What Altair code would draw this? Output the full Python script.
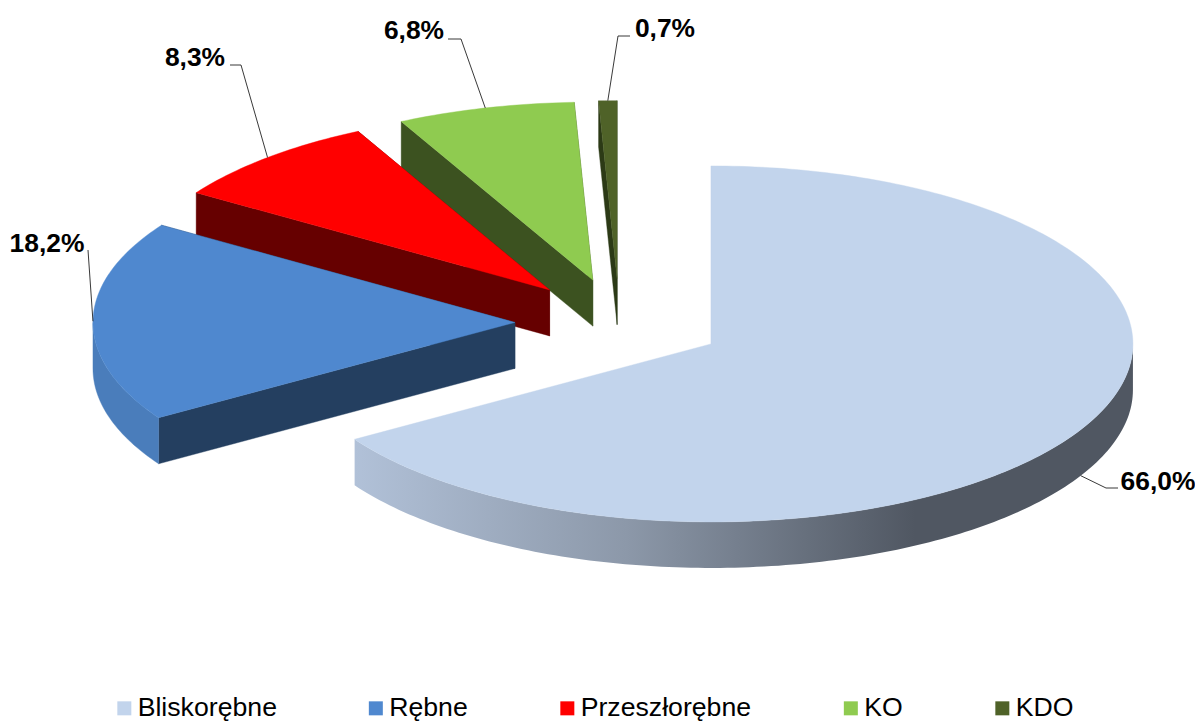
import math
import altair as alt

# values
categories = ["Bliskorębne", "Rębne", "Przeszłorębne", "KO", "KDO"]
shares = [66.0, 18.2, 8.3, 6.8, 0.7]
label_texts = ["66,0%", "18,2%", "8,3%", "6,8%", "0,7%"]

# styles
top_colors = ["#C2D4EC", "#4F88CF", "#FF0000", "#8FCB50", "#4F6228"]
cut_colors = ["#7F8FA6", "#243F60", "#660000", "#3C5220", "#2C3A16"]
rim_colors = ["#7F8FA6", "#4A7DBB", "#990000", "#6F9E3E", "#3F4F20"]

# layout of the drawing, in page pixels
PAGE = 8
CX, CY = 619.4, 322.7
RX, RY = 422.0, 178.0
DEPTH = 46.0
EXPLODE = 0.2475
label_pos = [(1158, 482), (47, 244), (195, 58), (414, 31), (665, 29)]
elbows = [[(1106, 488), (1118, 488)], [(88, 250)], [(241, 65), (230, 65)],
          [(461, 39), (448, 39)], [(618, 36), (630, 36)]]

total = sum(shares)


def ell(ax, ay, deg, dz=0.0):
    t = math.radians(deg)
    return [ax + RX * math.sin(t) - PAGE, ay - RY * math.cos(t) + dz - PAGE]


def arc(ax, ay, a0, a1, dz=0.0):
    n = max(2, int(abs(a1 - a0)) + 2)
    return [ell(ax, ay, a0 + (a1 - a0) * i / (n - 1), dz) for i in range(n)]


def feature(ring, name, color):
    ring = ring + [ring[0]]
    return {"type": "Feature",
            "properties": {"name": name, "fill": color},
            "geometry": {"type": "Polygon", "coordinates": [ring]}}


slices = []
start = 0.0
for i, s in enumerate(shares):
    a0, a1 = start, start + s / total * 360
    start = a1
    mid = math.radians((a0 + a1) / 2)
    ax = CX + RX * EXPLODE * math.sin(mid)
    ay = CY - RY * EXPLODE * math.cos(mid)
    slices.append((a0, a1, ax, ay))

rim_big = None
lower = []   # walls and tops of the small slices, back to front
tops_big = []
for i in reversed(range(len(shares))):
    a0, a1, ax, ay = slices[i]
    apex = [ax - PAGE, ay - PAGE]
    apex_low = [ax - PAGE, ay - PAGE + DEPTH]
    faces = []
    for a in (a1, a0):
        p = ell(ax, ay, a)
        q = ell(ax, ay, a, DEPTH)
        faces.append(feature([apex, p, q, apex_low], categories[i], cut_colors[i]))
    lo, hi = max(a0, 90.0), min(a1, 270.0)
    rim = None
    if hi > lo:
        ring = arc(ax, ay, lo, hi) + arc(ax, ay, hi, lo, DEPTH)
        rim = feature(ring, categories[i], rim_colors[i])
    top = feature([apex] + arc(ax, ay, a0, a1), categories[i], top_colors[i])
    if i == 0:
        rim_big = rim
        tops_big = [top]
    else:
        lower += faces
        if rim:
            lower.append(rim)
        lower.append(top)

projection = alt.Projection(type="identity", scale=1, translate=[0, 0])


def shapes(features):
    return alt.Data(values={"type": "FeatureCollection", "features": features},
                    format=alt.DataFormat(property="features"))


small = alt.Chart(shapes(lower)).mark_geoshape(strokeWidth=0.4).encode(
    fill=alt.Fill("properties.fill:N", scale=None),
    stroke=alt.Stroke("properties.fill:N", scale=None),
).project(**projection.to_dict())

rim_gradient = alt.LinearGradient(
    gradient="linear", x1=0, x2=1, y1=0, y2=0,
    stops=[alt.GradientStop(color="#B1C1D8", offset=0),
           alt.GradientStop(color="#8C98A9", offset=0.35),
           alt.GradientStop(color="#505762", offset=0.72),
           alt.GradientStop(color="#505762", offset=1)])
big_rim = alt.Chart(shapes([rim_big])).mark_geoshape(
    fill=rim_gradient, strokeWidth=0).project(**projection.to_dict())

big_top = alt.Chart(shapes(tops_big)).mark_geoshape(strokeWidth=0.4).encode(
    fill=alt.Fill("properties.fill:N", scale=None),
    stroke=alt.Stroke("properties.fill:N", scale=None),
).project(**projection.to_dict())

# legend, carried by invisible-size points
legend_rows = [{"name": c} for c in categories]
legend_layer = alt.Chart(alt.Data(values=legend_rows)).mark_square(size=0, opacity=1).encode(
    color=alt.Color(
        "name:N",
        scale=alt.Scale(domain=categories, range=top_colors),
        sort=None,
        legend=alt.Legend(
            orient="none", legendX=103, legendY=687, direction="horizontal",
            columns=5, title=None, symbolType="square", symbolSize=196,
            symbolStrokeWidth=0, labelFont="Liberation Sans", labelFontSize=26.67,
            labelColor="#000000", labelOffset=0, columnPadding=85.5, padding=0,
            labelLimit=400, symbolOpacity=1, gridAlign="none",
        ),
    ),
    x=alt.value(0), y=alt.value(0),
)

# leader lines and labels
line_rows = []
text_rows = []
for i, (a0, a1, ax, ay) in enumerate(slices):
    mid = (a0 + a1) / 2
    dz = DEPTH if 90 < mid < 270 else 0.0
    pts = [ell(ax, ay, mid, dz)] + [[x - PAGE, y - PAGE] for x, y in elbows[i]]
    for j, p in enumerate(pts):
        line_rows.append({"k": categories[i], "o": j, "px": p[0], "py": p[1]})
    text_rows.append({"t": label_texts[i], "px": label_pos[i][0] - PAGE, "py": label_pos[i][1] - PAGE})

leaders = alt.Chart(alt.Data(values=line_rows)).mark_line(color="#222222", strokeWidth=0.9).encode(
    x=alt.X("px:Q", scale=None, axis=None),
    y=alt.Y("py:Q", scale=None, axis=None),
    detail="k:N",
    order="o:Q",
)
labels = alt.Chart(alt.Data(values=text_rows)).mark_text(
    font="Liberation Sans", fontSize=26.4, fontWeight="bold", color="#000000",
    align="center", baseline="middle",
).encode(
    x=alt.X("px:Q", scale=None, axis=None),
    y=alt.Y("py:Q", scale=None, axis=None),
    text="t:N",
)

chart = alt.layer(small, big_rim, big_top, leaders, labels, legend_layer).resolve_scale(
    color="independent"
).properties(
    width=1187, height=714, padding=0, autosize=alt.AutoSizeParams(type="none"),
    background="#FFFFFF",
).configure_view(strokeWidth=0)

chart.save("out.html", embed_options={"renderer": "svg", "actions": False})
